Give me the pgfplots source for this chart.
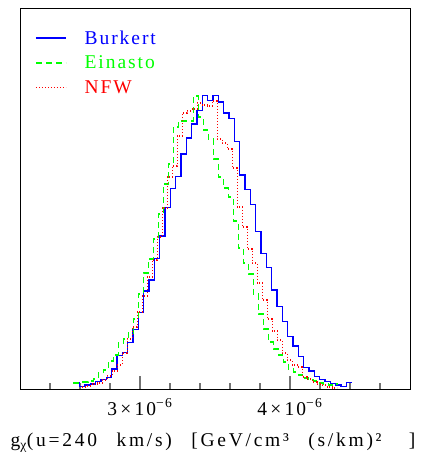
\documentclass[border=0pt]{standalone}
\usepackage{fontspec}
\setmainfont{Liberation Serif}[LetterSpace=10]
\usepackage{pgfplots}
\pgfplotsset{compat=1.18}
\newcommand\fs{\fontsize{19.5bp}{22bp}\selectfont}
\newcommand\fsl{\fontsize{19.5bp}{22bp}\selectfont\addfontfeature{LetterSpace=14}}
\begin{document}
\begin{tikzpicture}
\useasboundingbox (-20bp,-66bp) rectangle (403bp,389bp);
\begin{axis}[
  at={(0,0)}, anchor=south west,
  width=390bp, height=381bp, scale only axis,
  xmin=2.2e-6, xmax=4.8e-6, ymin=0, ymax=381,
  axis line style={black, line width=0.9bp},
  xtick={3e-6,4e-6},
  xticklabels={3\,×\,10\textsuperscript{−6}, 4\,×\,10\textsuperscript{−6}},
  minor xtick={2.4e-6,2.6e-6,2.8e-6,3.2e-6,3.4e-6,3.6e-6,3.8e-6,4.2e-6,4.4e-6,4.6e-6},
  scaled x ticks=false,
  ytick=\empty,
  xtick pos=bottom,
  tick align=inside,
  major tick length=13bp, minor tick length=6bp,
  every tick/.style={black!55, line width=1.2bp},
  xticklabel style={font=\fs, anchor=base, yshift=-26bp},
  xlabel={g\textsubscript{χ}(u=240\hspace{1em}km/s)\hspace{1em}[GeV/cm³\hspace{1em}(s/km)²\hspace{1.4em}]},
  xlabel style={font=\fsl, at={(axis description cs:0.5,0)}, anchor=base, yshift=-57bp, xshift=-2bp},
  legend style={font=\fs, draw=none, fill=none, inner sep=0pt, at={(0.0385,0.9415)}, anchor=north west,
    row sep=10.3bp, nodes={inner sep=0pt},
    /tikz/every odd column/.append style={column sep=18bp}},
  legend cell align=left,
  legend image code/.code={\draw[#1] (0bp,0bp) -- (30bp,0bp);},
]
\addplot[color=blue, line width=1.4bp, const plot mark left] coordinates {
(2.5620e-6,6.3) (2.5976e-6,2.3) (2.6331e-6,4) (2.6687e-6,5) (2.7042e-6,7.3)
(2.7398e-6,9.7) (2.7753e-6,11.7) (2.8109e-6,20) (2.8464e-6,33.3) (2.8820e-6,36.7)
(2.9176e-6,46.3) (2.9531e-6,59.7) (2.9887e-6,76.3) (3.0242e-6,98) (3.0598e-6,109)
(3.0953e-6,130.7) (3.1309e-6,153) (3.1665e-6,181.3) (3.2020e-6,200.7) (3.2376e-6,212.3)
(3.2731e-6,235) (3.3087e-6,251) (3.3442e-6,265) (3.3798e-6,278.3) (3.4153e-6,293.7)
(3.4509e-6,288.3) (3.4865e-6,293.7) (3.5220e-6,287) (3.5576e-6,276) (3.5931e-6,270.3)
(3.6287e-6,247.7) (3.6642e-6,214) (3.6998e-6,199.7) (3.7353e-6,184.3) (3.7709e-6,157.3)
(3.8065e-6,135.7) (3.8420e-6,121.7) (3.8776e-6,99) (3.9131e-6,82.3) (3.9487e-6,67.3)
(3.9842e-6,52.3) (4.0198e-6,43) (4.0553e-6,32.3) (4.0909e-6,21.7) (4.1265e-6,18)
(4.1620e-6,12.3) (4.1976e-6,9.7) (4.2331e-6,7.3) (4.2687e-6,5.7) (4.3042e-6,4)
(4.3398e-6,2.3) (4.3753e-6,6.7) (4.4109e-6,6.7)
};
\addlegendentry[text=blue]{Burkert}
\addplot[color=green, line width=1.4bp, dash pattern=on 6bp off 4bp, const plot mark left] coordinates {
(2.5553e-6,6) (2.5887e-6,7) (2.6220e-6,7) (2.6553e-6,8) (2.6887e-6,10)
(2.7220e-6,16) (2.7553e-6,19) (2.7887e-6,28) (2.8220e-6,34) (2.8553e-6,46)
(2.8887e-6,50) (2.9220e-6,56) (2.9553e-6,70) (2.9887e-6,95) (3.0220e-6,116)
(3.0553e-6,130) (3.0887e-6,150) (3.1220e-6,175) (3.1553e-6,205) (3.1887e-6,225)
(3.2220e-6,262) (3.2553e-6,268) (3.2887e-6,268) (3.3220e-6,268) (3.3553e-6,293)
(3.3887e-6,272) (3.4220e-6,259) (3.4553e-6,250) (3.4887e-6,230) (3.5220e-6,212)
(3.5553e-6,201) (3.5887e-6,192) (3.6220e-6,168) (3.6553e-6,141) (3.6887e-6,126)
(3.7220e-6,115) (3.7553e-6,95) (3.7887e-6,75) (3.8220e-6,60) (3.8553e-6,47)
(3.8887e-6,40) (3.9220e-6,34) (3.9553e-6,27) (3.9887e-6,20) (4.0220e-6,17)
(4.0553e-6,14) (4.0887e-6,11) (4.1220e-6,9) (4.1553e-6,8) (4.1887e-6,6)
(4.2220e-6,5) (4.2553e-6,4) (4.2887e-6,5) (4.3220e-6,5)
};
\addlegendentry[text=green]{Einasto}
\addplot[color=red, line width=1.4bp, dash pattern=on 1.2bp off 1.8bp, const plot mark left] coordinates {
(2.6153e-6,2) (2.6487e-6,3) (2.6820e-6,5) (2.7153e-6,6) (2.7487e-6,9)
(2.7820e-6,13) (2.8153e-6,18) (2.8487e-6,24) (2.8820e-6,36) (2.9153e-6,50)
(2.9487e-6,62) (2.9820e-6,77) (3.0153e-6,93) (3.0487e-6,112) (3.0820e-6,129)
(3.1153e-6,152) (3.1487e-6,181) (3.1820e-6,212) (3.2153e-6,223) (3.2487e-6,253)
(3.2820e-6,276) (3.3153e-6,278) (3.3487e-6,280) (3.3820e-6,286) (3.4153e-6,284)
(3.4487e-6,283) (3.4820e-6,288) (3.5153e-6,250) (3.5487e-6,246) (3.5820e-6,240)
(3.6153e-6,221) (3.6487e-6,182) (3.6820e-6,162) (3.7153e-6,140) (3.7487e-6,126)
(3.7820e-6,106) (3.8153e-6,89) (3.8487e-6,70) (3.8820e-6,58) (3.9153e-6,49)
(3.9487e-6,36) (3.9820e-6,29) (4.0153e-6,24) (4.0487e-6,22) (4.0820e-6,12)
(4.1153e-6,10) (4.1487e-6,7) (4.1820e-6,5) (4.2153e-6,4) (4.2487e-6,2)
(4.2820e-6,1) (4.3153e-6,1)
};
\addlegendentry[text=red]{NFW}
\end{axis}
\end{tikzpicture}
\end{document}
